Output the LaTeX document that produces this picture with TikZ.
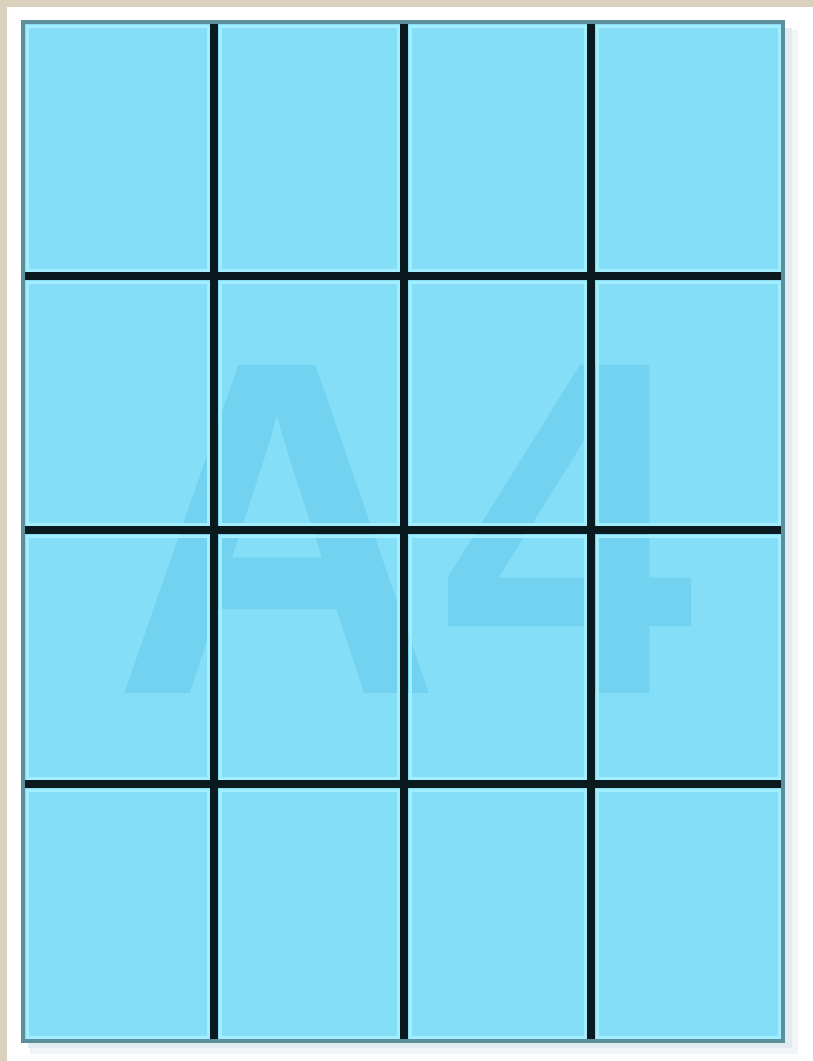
\documentclass[tikz,border=0pt]{standalone}
\usepackage{graphicx}
\usepackage{fontspec}
\setmainfont{Liberation Sans}
\definecolor{frame}{HTML}{D9D1BD}
\definecolor{sheet}{HTML}{84DEF8}
\definecolor{sheetlight}{HTML}{A2EEFF}
\definecolor{sheetmark}{HTML}{72D2F0}
\definecolor{sheetedge}{HTML}{5C8F9B}
\definecolor{gridline}{HTML}{0B1A1F}
\definecolor{sheetshadow}{HTML}{E2EBEF}

\begin{document}
\begin{tikzpicture}[x=1pt, y=-1pt,
  gridrule/.style={draw=gridline, line width=7.5pt},
  cellglow/.style={draw=sheetlight, line width=3pt},
  sheetrim/.style={draw=sheetedge, line width=4pt}]
  % background and margins
  \fill[frame] (0,0) rectangle (813,1061);
  \fill[white] (7,7) rectangle (813,1061);
  \useasboundingbox (0,0) rectangle (813,1061);
  % soft shadow
  \fill[sheetshadow, opacity=0.5] (30,30) rectangle (798,1054);
  \fill[sheetshadow] (28,28) rectangle (792,1048);
  % sheet
  \fill[sheet] (23,22) rectangle (783,1041);
  \node[text=sheetmark, inner sep=0pt, anchor=base] (mark) at (404,693)
    {\scalebox{1}[1.05]{\fontsize{454}{454}\selectfont\bfseries A4}};
  % cell highlights
  \foreach \xa/\xb in {25/210, 218/400, 408/587, 595/781}
    \foreach \ya/\yb in {24/272, 280/526, 534/780, 788/1039}
      \draw[cellglow] (\xa+2,\ya+2) rectangle (\xb-2,\yb-2);
  % grid lines
  \coordinate (tl) at (23,22);
  \coordinate (br) at (783,1041);
  \foreach \gx in {214, 404, 591}
    \draw[gridrule] (\gx,22) -- (\gx,1041);
  \foreach \gy in {276, 530, 784}
    \draw[gridrule] (23,\gy) -- (783,\gy);
  % sheet edge
  \draw[sheetrim] (tl) rectangle (br);
\end{tikzpicture}
\end{document}
